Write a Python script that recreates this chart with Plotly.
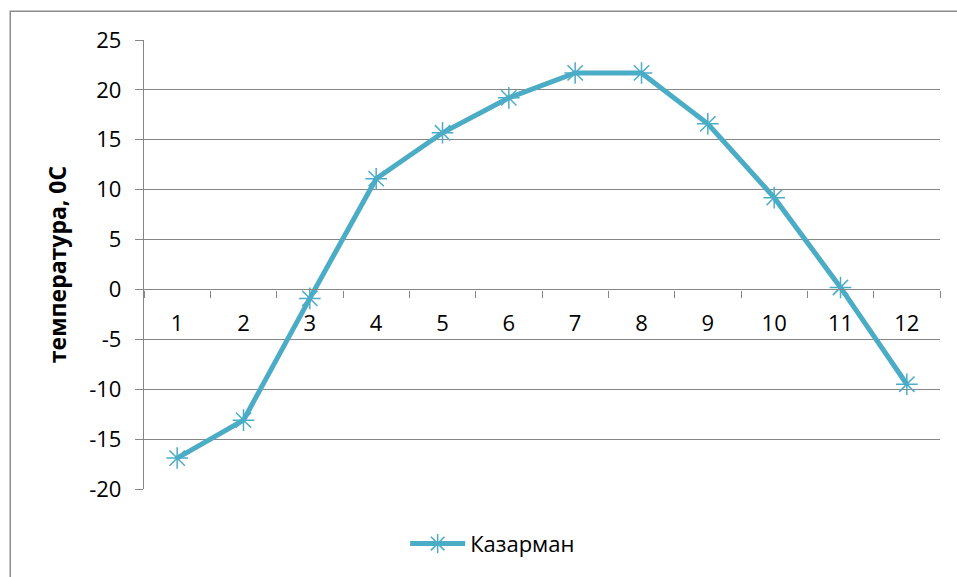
import plotly.graph_objects as go

months = ["1", "2", "3", "4", "5", "6", "7", "8", "9", "10", "11", "12"]
temps = [-16.9, -13.1, -0.9, 11.1, 15.7, 19.2, 21.7, 21.7, 16.6, 9.2, 0.2, -9.5]
series_name = "Казарман"
y_title = "температура, 0С"
y_tick_vals = [-20, -15, -10, -5, 0, 5, 10, 15, 20, 25]
y_tick_text = ["-20", "-15", "-10", "-5", "0", "5", "10", "15", "20", "25"]

COLOR = "#4BACC6"
GRID = "#868686"
FONT = "Open Sans"

fig = go.Figure()
fig.add_trace(go.Scatter(
    x=months, y=temps, mode="lines+markers", name=series_name,
    line=dict(color=COLOR, width=5),
    marker=dict(symbol="asterisk-open", size=18, color=COLOR,
                line=dict(color=COLOR, width=1.5)),
))

ymin, ymax = -20, 25
fig.update_layout(
    width=957, height=577,
    margin=dict(l=144, r=17, t=40, b=86),
    paper_bgcolor="white", plot_bgcolor="white",
    font=dict(family=FONT, size=22, color="black"),
    showlegend=True,
    legend=dict(orientation="h", x=0.438, xanchor="center", y=-0.122, yanchor="middle",
                font=dict(family=FONT, size=22, color="black"), itemwidth=55),
    xaxis=dict(
        type="category", range=[-0.5, 11.5], tickson="boundaries",
        ticks="outside", ticklen=7, tickcolor=GRID, tickwidth=1.4,
        showline=True, linecolor=GRID, linewidth=1.4,
        showgrid=False, zeroline=False,
        anchor="free", position=(0 - ymin) / (ymax - ymin),
        ticklabelstandoff=14,
        tickfont=dict(family=FONT, size=22),
    ),
    yaxis=dict(
        range=[ymin, ymax], tickvals=y_tick_vals, ticktext=y_tick_text,
        ticks="outside", ticklen=8, tickcolor=GRID, tickwidth=1.4,
        showline=True, linecolor=GRID, linewidth=1.4,
        showgrid=True, gridcolor=GRID, gridwidth=1.4,
        zeroline=False, ticklabelstandoff=9,
        tickfont=dict(family=FONT, size=22),
        title=dict(text="<b>" + y_title + "</b>", standoff=16,
                   font=dict(family=FONT, size=23)),
    ),
)

# outer chart frame
fig.add_shape(type="rect", xref="paper", yref="paper",
              x0=-0.168, x1=1.03, y0=-0.2, y1=1.064,
              line=dict(color="#8C8C8C", width=1.5), fillcolor="rgba(0,0,0,0)",
              layer="below")

fig.write_html("out.html")
